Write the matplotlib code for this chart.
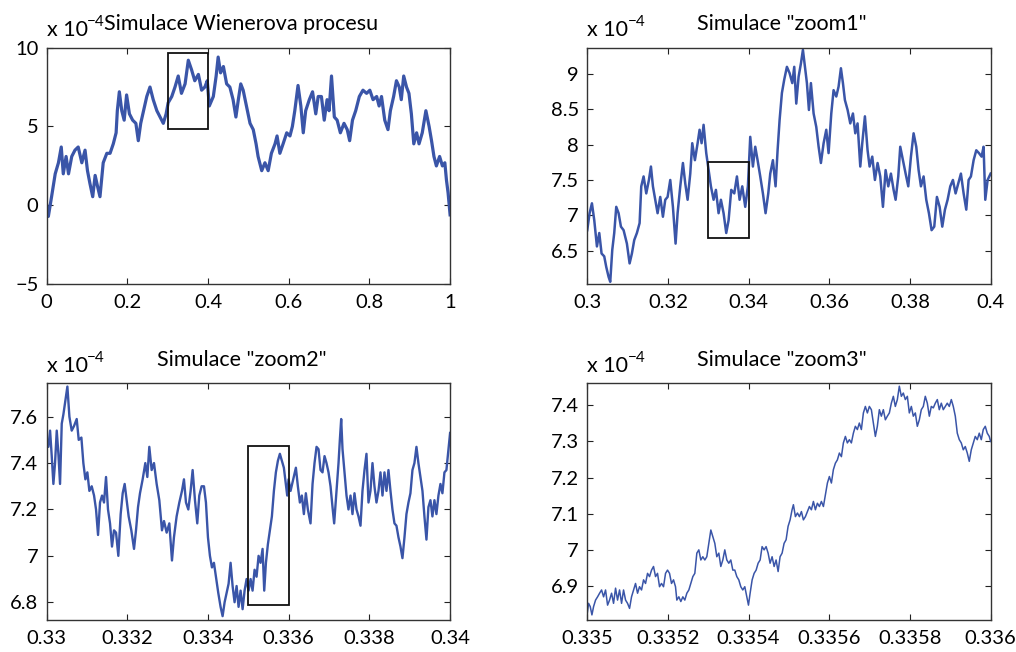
import matplotlib
matplotlib.use("Agg")
import matplotlib.pyplot as plt
from matplotlib.patches import Rectangle
from matplotlib.ticker import FuncFormatter

plt.rcParams['font.family'] = ['Lato', 'DejaVu Sans']

# Wiener process, full interval [0, 1]   (values in units of 1e-4)
t1 = [0, 0.004, 0.012, 0.021, 0.029, 0.036, 0.041, 0.048, 0.054, 0.062, 0.070, 0.078, 0.087, 0.095,
      0.101, 0.107, 0.114, 0.120, 0.126, 0.132, 0.140, 0.149, 0.157, 0.165, 0.172, 0.175, 0.180,
      0.186, 0.192, 0.198, 0.205, 0.213, 0.221, 0.227, 0.233, 0.240, 0.248, 0.256, 0.264, 0.273,
      0.281, 0.289, 0.296, 0.301, 0.310, 0.318, 0.326, 0.334, 0.343, 0.351, 0.359, 0.367, 0.376,
      0.384, 0.392, 0.398, 0.403, 0.413, 0.420, 0.425, 0.431, 0.438, 0.446, 0.454, 0.462, 0.469,
      0.475, 0.481, 0.487, 0.495, 0.504, 0.512, 0.519, 0.524, 0.533, 0.541, 0.549, 0.557, 0.566,
      0.571, 0.578, 0.586, 0.595, 0.603, 0.609, 0.615, 0.623, 0.630, 0.636, 0.642, 0.651, 0.659,
      0.667, 0.673, 0.681, 0.688, 0.695, 0.700, 0.706, 0.713, 0.720, 0.728, 0.737, 0.745, 0.751,
      0.758, 0.766, 0.775, 0.784, 0.793, 0.801, 0.809, 0.818, 0.824, 0.830, 0.838, 0.846, 0.852,
      0.860, 0.867, 0.874, 0.879, 0.885, 0.892, 0.898, 0.904, 0.910, 0.917, 0.923, 0.931, 0.940,
      0.948, 0.954, 0.960, 0.966, 0.974, 0.981, 0.987, 0.991, 0.995, 1.0]
w1 = [0, -0.7, 0.55, 2.0, 2.7, 3.7, 2.0, 3.1, 2.0, 3.1, 3.5, 3.7, 2.7, 3.5, 2.2, 1.4, 0.55, 1.9, 1.2,
      0.55, 2.7, 3.3, 3.3, 3.9, 4.6, 6.0, 7.2, 6.0, 5.4, 7.0, 5.8, 5.4, 5.2, 4.1, 5.2, 6.0, 6.9, 7.5,
      6.7, 6.0, 5.6, 5.2, 5.8, 6.5, 6.9, 7.5, 8.2, 7.1, 7.7, 9.2, 8.6, 7.9, 8.3, 7.3, 7.5, 7.9, 6.3,
      6.9, 8.2, 9.4, 8.4, 8.8, 7.7, 7.5, 6.7, 5.6, 6.7, 7.7, 7.3, 6.3, 5.2, 4.8, 3.9, 3.1, 2.2, 2.7,
      2.2, 3.3, 3.9, 4.4, 3.3, 3.9, 4.6, 4.4, 5.0, 6.0, 7.6, 6.3, 4.6, 6.0, 6.7, 7.2, 5.8, 6.9, 6.9,
      5.4, 6.7, 6.0, 8.2, 5.6, 5.4, 4.6, 5.2, 4.8, 4.1, 5.4, 6.0, 6.9, 7.3, 7.1, 7.3, 6.7, 6.9, 6.3,
      6.9, 5.4, 4.8, 6.0, 6.9, 7.9, 7.5, 6.7, 8.2, 7.5, 7.1, 5.8, 3.9, 4.6, 3.9, 4.6, 6.0, 5.0, 4.1,
      3.1, 2.5, 3.1, 2.5, 2.7, 1.6, 0.8, -0.6]

# zoom1: [0.3, 0.4]
t2 = [0.30000, 0.30058, 0.30116, 0.30174, 0.30240, 0.30298, 0.30355, 0.30421, 0.30471, 0.30529,
      0.30570, 0.30620, 0.30669, 0.30719, 0.30777, 0.30835, 0.30901, 0.30983, 0.31050, 0.31107,
      0.31165, 0.31231, 0.31298, 0.31339, 0.31397, 0.31463, 0.31529, 0.31579, 0.31628, 0.31686,
      0.31744, 0.31810, 0.31876, 0.31934, 0.31992, 0.32058, 0.32124, 0.32190, 0.32240, 0.32306,
      0.32372, 0.32430, 0.32488, 0.32554, 0.32603, 0.32669, 0.32736, 0.32785, 0.32835, 0.32884,
      0.32950, 0.33008, 0.33066, 0.33132, 0.33190, 0.33256, 0.33314, 0.33380, 0.33446, 0.33504,
      0.33570, 0.33645, 0.33711, 0.33777, 0.33843, 0.33917, 0.33983, 0.34041, 0.34107, 0.34165,
      0.34223, 0.34289, 0.34355, 0.34421, 0.34488, 0.34537, 0.34603, 0.34669, 0.34719, 0.34769,
      0.34826, 0.34884, 0.34950, 0.35017, 0.35083, 0.35132, 0.35182, 0.35240, 0.35298, 0.35347,
      0.35397, 0.35446, 0.35496, 0.35545, 0.35612, 0.35678, 0.35736, 0.35793, 0.35860, 0.35926,
      0.35983, 0.36050, 0.36107, 0.36174, 0.36231, 0.36289, 0.36339, 0.36388, 0.36455, 0.36521,
      0.36587, 0.36645, 0.36702, 0.36769, 0.36818, 0.36884, 0.36950, 0.37000, 0.37066, 0.37132,
      0.37198, 0.37264, 0.37331, 0.37397, 0.37463, 0.37529, 0.37595, 0.37645, 0.37711, 0.37760,
      0.37826, 0.37893, 0.37959, 0.38025, 0.38091, 0.38157, 0.38215, 0.38273, 0.38339, 0.38405,
      0.38471, 0.38537, 0.38603, 0.38669, 0.38736, 0.38802, 0.38868, 0.38934, 0.39000, 0.39066,
      0.39132, 0.39198, 0.39264, 0.39331, 0.39397, 0.39455, 0.39512, 0.39579, 0.39645, 0.39711,
      0.39777, 0.39826, 0.39868, 0.39926, 0.40000]
w2 = [6.79, 7.03, 7.17, 6.93, 6.56, 6.75, 6.46, 6.42, 6.27, 6.13, 6.06, 6.51, 6.75, 7.12, 7.03, 6.84,
      6.79, 6.60, 6.32, 6.46, 6.65, 6.75, 6.89, 7.41, 7.55, 7.31, 7.50, 7.69, 7.41, 7.22, 7.03, 7.26,
      6.98, 7.22, 7.26, 7.50, 7.12, 6.60, 7.03, 7.41, 7.74, 7.45, 7.22, 7.59, 8.02, 7.78, 8.02, 8.21,
      8.02, 8.28, 7.88, 7.64, 7.41, 7.22, 7.36, 7.03, 7.22, 7.03, 6.75, 6.93, 7.36, 7.31, 7.55, 7.22,
      7.41, 7.12, 7.41, 8.11, 7.69, 7.97, 7.78, 7.55, 7.31, 7.03, 7.31, 7.59, 7.78, 7.41, 7.92, 8.35,
      8.73, 8.92, 9.10, 9.01, 8.87, 9.10, 8.58, 8.96, 9.15, 9.34, 9.10, 8.87, 8.49, 8.87, 8.44, 8.25,
      7.97, 7.74, 8.02, 8.21, 7.88, 8.44, 8.77, 8.68, 8.82, 9.08, 8.87, 8.63, 8.49, 8.30, 8.44, 8.16,
      8.30, 7.69, 8.02, 8.40, 7.92, 7.69, 7.83, 7.50, 7.74, 7.55, 7.12, 7.64, 7.41, 7.59, 7.36, 7.22,
      7.55, 7.97, 7.78, 7.59, 7.41, 7.83, 8.16, 7.97, 7.64, 7.41, 7.55, 7.22, 7.03, 6.79, 6.84, 7.26,
      7.12, 6.84, 7.08, 7.22, 7.41, 7.50, 7.31, 7.45, 7.59, 7.31, 7.08, 7.50, 7.55, 7.78, 7.92, 7.88,
      7.83, 7.97, 7.22, 7.50, 7.59]

# zoom2: [0.33, 0.34]
t3 = [0.330000, 0.330041, 0.330083, 0.330124, 0.330165, 0.330206, 0.330248, 0.330289, 0.330330,
      0.330372, 0.330413, 0.330462, 0.330512, 0.330562, 0.330619, 0.330677, 0.330743, 0.330793,
      0.330859, 0.330908, 0.330958, 0.331007, 0.331057, 0.331115, 0.331173, 0.331222, 0.331272,
      0.331321, 0.331371, 0.331420, 0.331470, 0.331519, 0.331569, 0.331618, 0.331668, 0.331718,
      0.331775, 0.331833, 0.331883, 0.331932, 0.331982, 0.332031, 0.332097, 0.332164, 0.332213,
      0.332263, 0.332312, 0.332378, 0.332444, 0.332494, 0.332543, 0.332601, 0.332659, 0.332725,
      0.332791, 0.332857, 0.332907, 0.332973, 0.333039, 0.333105, 0.333154, 0.333220, 0.333287,
      0.333353, 0.333402, 0.333452, 0.333510, 0.333567, 0.333617, 0.333675, 0.333732, 0.333782,
      0.333840, 0.333898, 0.333947, 0.333997, 0.334046, 0.334096, 0.334145, 0.334195, 0.334253,
      0.334310, 0.334360, 0.334410, 0.334459, 0.334509, 0.334558, 0.334608, 0.334657, 0.334707,
      0.334756, 0.334806, 0.334856, 0.334905, 0.334955, 0.335004, 0.335054, 0.335103, 0.335153,
      0.335202, 0.335252, 0.335301, 0.335351, 0.335392, 0.335434, 0.335483, 0.335533, 0.335582,
      0.335632, 0.335681, 0.335731, 0.335780, 0.335830, 0.335879, 0.335929, 0.335962, 0.335995,
      0.336045, 0.336111, 0.336177, 0.336226, 0.336276, 0.336325, 0.336375, 0.336424, 0.336474,
      0.336540, 0.336590, 0.336639, 0.336689, 0.336738, 0.336788, 0.336837, 0.336887, 0.336936,
      0.336986, 0.337036, 0.337085, 0.337126, 0.337184, 0.337234, 0.337267, 0.337300, 0.337333,
      0.337382, 0.337432, 0.337481, 0.337531, 0.337580, 0.337630, 0.337680, 0.337729, 0.337779,
      0.337828, 0.337878, 0.337927, 0.337977, 0.338026, 0.338076, 0.338125, 0.338175, 0.338225,
      0.338274, 0.338324, 0.338373, 0.338423, 0.338472, 0.338522, 0.338571, 0.338621, 0.338670,
      0.338720, 0.338770, 0.338819, 0.338869, 0.338918, 0.338968, 0.339017, 0.339067, 0.339116,
      0.339166, 0.339215, 0.339265, 0.339315, 0.339364, 0.339414, 0.339463, 0.339513, 0.339562,
      0.339612, 0.339661, 0.339711, 0.339761, 0.339810, 0.339860, 0.339909, 0.339959, 0.340000]
w3 = [7.50, 7.47, 7.54, 7.43, 7.31, 7.40, 7.54, 7.44, 7.31, 7.57, 7.61, 7.67, 7.73, 7.60, 7.54, 7.56,
      7.59, 7.50, 7.51, 7.40, 7.33, 7.36, 7.28, 7.30, 7.26, 7.20, 7.09, 7.23, 7.26, 7.23, 7.34, 7.20,
      7.14, 7.04, 7.11, 7.10, 7.00, 7.18, 7.27, 7.31, 7.24, 7.17, 7.11, 7.03, 7.11, 7.21, 7.27, 7.33,
      7.40, 7.34, 7.47, 7.37, 7.40, 7.31, 7.24, 7.11, 7.15, 7.10, 7.14, 6.98, 7.08, 7.17, 7.23, 7.28,
      7.33, 7.23, 7.20, 7.28, 7.37, 7.24, 7.14, 7.26, 7.30, 7.30, 7.23, 7.08, 7.00, 6.95, 6.97, 6.91,
      6.84, 6.78, 6.74, 6.80, 6.84, 6.88, 6.97, 6.87, 6.80, 6.87, 6.78, 6.85, 6.77, 6.85, 6.90, 6.85,
      6.90, 6.85, 6.94, 6.91, 7.00, 6.97, 7.03, 6.85, 6.97, 7.05, 7.11, 7.17, 7.28, 7.36, 7.41, 7.44,
      7.41, 7.38, 7.31, 7.26, 7.33, 7.28, 7.33, 7.38, 7.30, 7.23, 7.26, 7.18, 7.27, 7.20, 7.14, 7.31,
      7.40, 7.47, 7.46, 7.37, 7.36, 7.43, 7.40, 7.36, 7.30, 7.21, 7.14, 7.28, 7.40, 7.50, 7.59, 7.46,
      7.36, 7.26, 7.20, 7.26, 7.18, 7.27, 7.20, 7.17, 7.13, 7.28, 7.37, 7.44, 7.23, 7.28, 7.40, 7.30,
      7.23, 7.28, 7.36, 7.26, 7.36, 7.28, 7.37, 7.28, 7.20, 7.14, 7.13, 7.08, 7.04, 6.99, 7.08, 7.18,
      7.23, 7.27, 7.37, 7.40, 7.47, 7.40, 7.34, 7.28, 7.17, 7.07, 7.21, 7.24, 7.17, 7.24, 7.18, 7.26,
      7.31, 7.27, 7.36, 7.37, 7.46, 7.53]

# zoom3: [0.335, 0.336]
t4 = [0.3350000, 0.3350033, 0.3350074, 0.3350116, 0.3350157, 0.3350206, 0.3350256, 0.3350306,
      0.3350355, 0.3350405, 0.3350454, 0.3350504, 0.3350553, 0.3350603, 0.3350652, 0.3350702,
      0.3350751, 0.3350801, 0.3350851, 0.3350900, 0.3350950, 0.3350999, 0.3351049, 0.3351098,
      0.3351148, 0.3351197, 0.3351247, 0.3351296, 0.3351346, 0.3351396, 0.3351445, 0.3351495,
      0.3351544, 0.3351594, 0.3351643, 0.3351693, 0.3351742, 0.3351792, 0.3351841, 0.3351891,
      0.3351941, 0.3351990, 0.3352040, 0.3352089, 0.3352139, 0.3352188, 0.3352221, 0.3352271,
      0.3352320, 0.3352370, 0.3352419, 0.3352469, 0.3352519, 0.3352568, 0.3352618, 0.3352667,
      0.3352717, 0.3352766, 0.3352816, 0.3352865, 0.3352915, 0.3352964, 0.3353014, 0.3353064,
      0.3353113, 0.3353163, 0.3353212, 0.3353262, 0.3353311, 0.3353361, 0.3353410, 0.3353460,
      0.3353509, 0.3353559, 0.3353609, 0.3353658, 0.3353708, 0.3353757, 0.3353807, 0.3353856,
      0.3353906, 0.3353955, 0.3353997, 0.3354038, 0.3354088, 0.3354137, 0.3354187, 0.3354236,
      0.3354286, 0.3354335, 0.3354385, 0.3354434, 0.3354484, 0.3354533, 0.3354583, 0.3354633,
      0.3354682, 0.3354732, 0.3354781, 0.3354831, 0.3354880, 0.3354930, 0.3354979, 0.3355029,
      0.3355078, 0.3355111, 0.3355161, 0.3355211, 0.3355260, 0.3355310, 0.3355359, 0.3355409,
      0.3355458, 0.3355508, 0.3355557, 0.3355607, 0.3355656, 0.3355706, 0.3355756, 0.3355805,
      0.3355855, 0.3355904, 0.3355954, 0.3356003, 0.3356053, 0.3356102, 0.3356152, 0.3356201,
      0.3356251, 0.3356301, 0.3356350, 0.3356400, 0.3356449, 0.3356499, 0.3356548, 0.3356598,
      0.3356647, 0.3356697, 0.3356746, 0.3356796, 0.3356846, 0.3356895, 0.3356945, 0.3356994,
      0.3357044, 0.3357093, 0.3357143, 0.3357192, 0.3357242, 0.3357291, 0.3357341, 0.3357391,
      0.3357440, 0.3357490, 0.3357539, 0.3357589, 0.3357638, 0.3357688, 0.3357737, 0.3357787,
      0.3357836, 0.3357886, 0.3357936, 0.3357985, 0.3358035, 0.3358084, 0.3358134, 0.3358183,
      0.3358233, 0.3358282, 0.3358332, 0.3358381, 0.3358431, 0.3358481, 0.3358530, 0.3358580,
      0.3358629, 0.3358679, 0.3358728, 0.3358778, 0.3358827, 0.3358877, 0.3358926, 0.3358976,
      0.3359026, 0.3359075, 0.3359125, 0.3359174, 0.3359224, 0.3359273, 0.3359323, 0.3359372,
      0.3359422, 0.3359471, 0.3359521, 0.3359571, 0.3359620, 0.3359670, 0.3359719, 0.3359769,
      0.3359818, 0.3359868, 0.3359917, 0.3359967, 0.3360000]
w4 = [6.824, 6.852, 6.843, 6.820, 6.843, 6.861, 6.870, 6.880, 6.889, 6.870, 6.889, 6.847, 6.861,
      6.880, 6.852, 6.894, 6.861, 6.889, 6.852, 6.889, 6.861, 6.852, 6.838, 6.870, 6.889, 6.907,
      6.880, 6.898, 6.889, 6.917, 6.907, 6.935, 6.926, 6.944, 6.954, 6.926, 6.935, 6.898, 6.907,
      6.898, 6.935, 6.944, 6.935, 6.907, 6.917, 6.898, 6.861, 6.870, 6.857, 6.870, 6.861, 6.880,
      6.889, 6.907, 6.926, 6.935, 6.991, 7.000, 6.972, 6.981, 6.972, 6.981, 7.018, 7.055, 7.037,
      7.018, 6.981, 6.991, 6.954, 6.972, 7.000, 6.972, 6.963, 6.972, 6.944, 6.944, 6.926, 6.917,
      6.898, 6.889, 6.898, 6.870, 6.847, 6.880, 6.917, 6.935, 6.944, 6.963, 6.972, 7.009, 7.000,
      7.009, 6.991, 6.963, 6.981, 6.954, 6.972, 6.940, 6.981, 6.991, 7.018, 7.028, 7.065, 7.083,
      7.111, 7.125, 7.092, 7.102, 7.092, 7.106, 7.083, 7.092, 7.106, 7.120, 7.111, 7.134, 7.111,
      7.129, 7.120, 7.134, 7.120, 7.152, 7.185, 7.203, 7.185, 7.222, 7.240, 7.249, 7.268, 7.258,
      7.296, 7.314, 7.296, 7.305, 7.296, 7.323, 7.342, 7.333, 7.351, 7.333, 7.379, 7.397, 7.379,
      7.397, 7.388, 7.351, 7.314, 7.342, 7.388, 7.370, 7.388, 7.360, 7.370, 7.379, 7.406, 7.425,
      7.397, 7.416, 7.453, 7.425, 7.434, 7.416, 7.425, 7.379, 7.397, 7.370, 7.379, 7.342, 7.360,
      7.388, 7.397, 7.425, 7.406, 7.370, 7.397, 7.393, 7.406, 7.416, 7.388, 7.406, 7.388, 7.397,
      7.406, 7.397, 7.416, 7.397, 7.370, 7.323, 7.305, 7.296, 7.277, 7.286, 7.268, 7.245, 7.277,
      7.296, 7.314, 7.305, 7.323, 7.305, 7.333, 7.342, 7.323, 7.314, 7.300]

titles = ['Simulace Wienerova procesu', 'Simulace "zoom1"', 'Simulace "zoom2"', 'Simulace "zoom3"']
xticks = [[0, 0.2, 0.4, 0.6, 0.8, 1],
          [0.3, 0.32, 0.34, 0.36, 0.38, 0.4],
          [0.33, 0.332, 0.334, 0.336, 0.338, 0.34],
          [0.335, 0.3352, 0.3354, 0.3356, 0.3358, 0.336]]
yticks = [[-5, 0, 5, 10],
          [6.5, 7, 7.5, 8, 8.5, 9],
          [6.8, 7, 7.2, 7.4, 7.6],
          [6.9, 7, 7.1, 7.2, 7.3, 7.4]]
ylims = [(-5, 10), (6.025, 9.372), (6.722, 7.744), (6.805, 7.461)]
# zoom rectangles: (x0, x1, y0, y1)
boxes = [(0.3, 0.4, 4.82, 9.64), (0.33, 0.34, 6.684, 7.755), (0.335, 0.336, 6.786, 7.474), None]

series = [(t1, w1), (t2, w2), (t3, w3), (t4, w4)]
widths = [2.3, 1.8, 1.7, 1.1]
blue = '#3a55a8'

fig = plt.figure(figsize=(10.16, 6.52), dpi=100)
rects = [[0.046, 0.564, 0.397, 0.363], [0.578, 0.564, 0.397, 0.363],
         [0.046, 0.0486, 0.397, 0.3635], [0.578, 0.0486, 0.397, 0.3635]]

fmt = FuncFormatter(lambda v, p: f'{v:g}'.replace('-', '\u2212'))

for i in range(4):
    ax = fig.add_axes(rects[i])
    t, w = series[i]
    ax.plot(t, w, color=blue, linewidth=widths[i])
    ax.set_xlim(xticks[i][0], xticks[i][-1])
    ax.set_ylim(*ylims[i])
    ax.set_xticks(xticks[i])
    ax.set_yticks(yticks[i])
    ax.xaxis.set_major_formatter(fmt)
    ax.yaxis.set_major_formatter(fmt)
    ax.tick_params(direction='in', top=True, right=True, length=4, width=0.8,
                   labelsize=14.5, color='#222222')
    ax.tick_params(axis='x', pad=7)
    ax.tick_params(axis='y', pad=6)
    for s in ax.spines.values():
        s.set_linewidth(1.0)
        s.set_color('#333333')
    if boxes[i] is not None:
        x0, x1, y0, y1 = boxes[i]
        ax.add_patch(Rectangle((x0, y0), x1 - x0, y1 - y0, fill=False,
                               edgecolor='#111111', linewidth=1.3, zorder=3))
    ax.set_title(titles[i], fontsize=15.5, x=0.483, pad=12.5)
    ax.text(0.0, 1.047, 'x 10', transform=ax.transAxes, fontsize=15.5, va='baseline', ha='left')
    ax.text(0.10, 1.09, '\u22124', transform=ax.transAxes, fontsize=11, va='baseline', ha='left')

fig.savefig('out.png', dpi=100)
